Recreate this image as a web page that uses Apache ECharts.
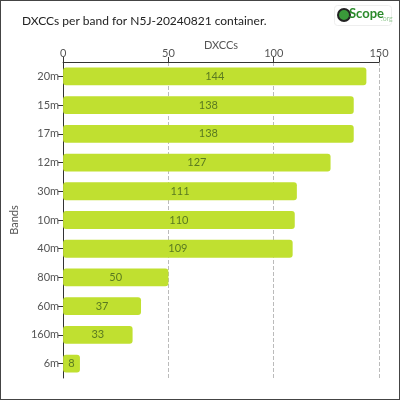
<!DOCTYPE html><html><head><meta charset="utf-8">
<script src="https://cdn.jsdelivr.net/npm/echarts@6/dist/echarts.min.js"></script>
<style>html,body{margin:0;padding:0}#c{width:398px;height:398px;border:1px solid #444}</style></head><body>
<div id="c"></div>
<script>
var bands=['20m','15m','17m','12m','30m','10m','40m','80m','60m','160m','6m'];
var values=[144,138,138,127,111,110,109,50,37,33,8];
var ticks=[0,50,100,150];
var ch=echarts.init(document.getElementById('c'));
ch.setOption({
animation:false,
title:{text:'DXCCs per band for N5J-20240821 container.',left:16,top:9,textStyle:{fontFamily:'Lato',fontSize:12,fontWeight:'normal',color:'#222'}},
graphic:[{type:'rect',left:333,top:4,shape:{width:57,height:20,r:3},style:{fill:'#fff',stroke:'#eee'}},
{type:'circle',left:336,top:7,shape:{r:6},style:{fill:'#3a9a3a',stroke:'#222',lineWidth:2}},
{type:'text',left:348,top:6,style:{text:'Scope',fill:'#2a8a2a',font:'bold 13px Lato'}},
{type:'text',left:380,top:14,style:{text:'.org',fill:'#9c9',font:'7px Lato'}},
{type:'text',x:220,y:39,style:{text:'DXCCs',fill:'#555',font:'11px Lato',align:'center'}}],
grid:{left:62,right:20,top:61,bottom:21},
xAxis:{type:'value',position:'top',min:0,max:150,interval:50,
 axisLine:{show:true,lineStyle:{color:'#333'}},axisTick:{show:true,lineStyle:{color:'#333'}},
 axisLabel:{fontFamily:'Lato',fontSize:11,color:'#555',margin:3},
 splitLine:{lineStyle:{type:'dashed',color:'#bbb'}}},
yAxis:{type:'category',data:bands,inverse:true,name:'Bands',nameLocation:'middle',nameGap:30,nameRotate:90,
 nameTextStyle:{fontFamily:'Lato',fontSize:11,color:'#555'},
 axisLine:{lineStyle:{color:'#333'}},axisTick:{show:true,alignWithLabel:true,lineStyle:{color:'#333'}},
 axisLabel:{fontFamily:'Lato',fontSize:11,color:'#555',margin:4}},
series:[{type:'bar',data:values,barWidth:'62%',itemStyle:{color:'#c0e030',borderRadius:3},
 label:{show:true,position:'inside',fontFamily:'Lato',fontSize:11,color:'#5a7a20'}}]
});
</script></body></html>
